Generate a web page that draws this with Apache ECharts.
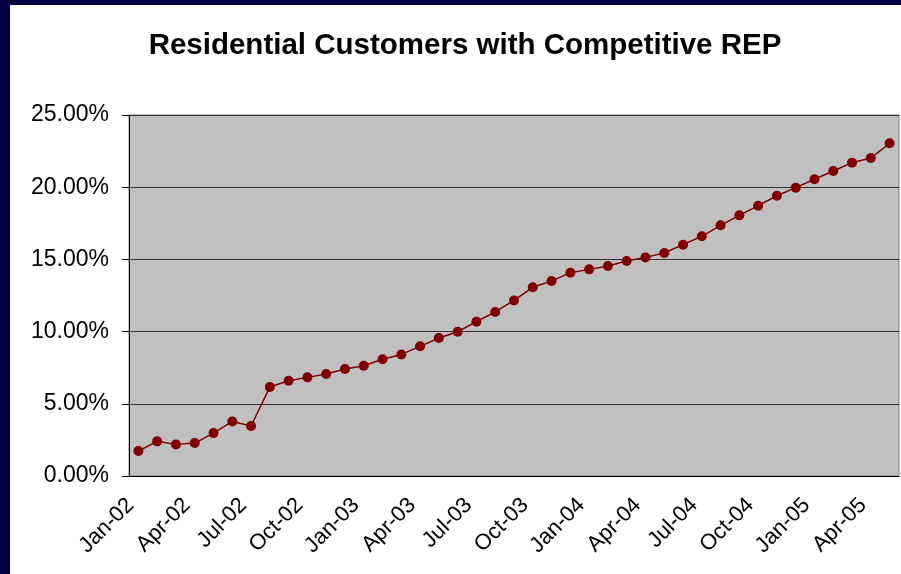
<!DOCTYPE html>
<html>
<head>
<meta charset="utf-8">
<script src="https://cdn.jsdelivr.net/npm/echarts@6/dist/echarts.min.js"></script>
<style>
  html, body { margin: 0; padding: 0; background: #000040; width: 901px; height: 574px; overflow: hidden; }
  #chart { position: absolute; left: 10px; top: 5px; width: 891px; height: 569px; background: #fff; }
</style>
</head>
<body>
<div id="chart"></div>
<script>
// monthly share of residential customers served by a competitive REP (%)
const months = [
  'Jan-02','Feb-02','Mar-02','Apr-02','May-02','Jun-02','Jul-02','Aug-02','Sep-02','Oct-02','Nov-02','Dec-02',
  'Jan-03','Feb-03','Mar-03','Apr-03','May-03','Jun-03','Jul-03','Aug-03','Sep-03','Oct-03','Nov-03','Dec-03',
  'Jan-04','Feb-04','Mar-04','Apr-04','May-04','Jun-04','Jul-04','Aug-04','Sep-04','Oct-04','Nov-04','Dec-04',
  'Jan-05','Feb-05','Mar-05','Apr-05','May-05'
];
const shareValues = [
  1.73, 2.40, 2.19, 2.28, 2.97, 3.78, 3.46, 6.16, 6.60, 6.83, 7.06, 7.41,
  7.64, 8.08, 8.42, 8.98, 9.56, 9.99, 10.69, 11.36, 12.16, 13.07, 13.50, 14.08,
  14.31, 14.54, 14.89, 15.14, 15.44, 16.02, 16.60, 17.36, 18.05, 18.72, 19.41, 19.97,
  20.55, 21.12, 21.70, 22.02, 23.04
];
const yTicks = [0, 5, 10, 15, 20, 25];

const chart = echarts.init(document.getElementById('chart'));
chart.setOption({
  animation: false,
  textStyle: { fontFamily: 'Liberation Sans, Arial, sans-serif' },
  title: {
    text: 'Residential Customers with Competitive REP',
    left: 450,
    top: 21,
    textAlign: 'center',
    textStyle: { fontSize: 29.5, fontWeight: 'bold', color: '#000', fontFamily: 'Liberation Sans, Arial, sans-serif' }
  },
  grid: {
    left: 119, top: 110, width: 770, height: 361,
    show: true, backgroundColor: '#c0c0c0', borderColor: '#808080', borderWidth: 1
  },
  xAxis: {
    type: 'category',
    data: months,
    boundaryGap: true,
    axisLine: { lineStyle: { color: '#000', width: 1 } },
    axisTick: { interval: 2, length: 7, lineStyle: { color: '#000' } },
    axisLabel: { interval: 2, rotate: 45, fontSize: 22, color: '#000', margin: 18, padding: [0, 11, 0, 0] }
  },
  yAxis: {
    type: 'value',
    min: yTicks[0], max: yTicks[yTicks.length - 1], interval: 5,
    axisLine: { show: true, lineStyle: { color: '#000', width: 1 } },
    axisTick: { show: true, length: 7, lineStyle: { color: '#000' } },
    axisLabel: { fontSize: 23, color: '#000', margin: 20, formatter: v => v.toFixed(2) + '%' },
    splitLine: { lineStyle: { color: '#333', width: 1 } }
  },
  series: [{
    type: 'line',
    data: shareValues,
    symbol: 'circle',
    symbolSize: 10,
    lineStyle: { color: '#800000', width: 1.5 },
    itemStyle: { color: '#800000' }
  }]
});
</script>
</body>
</html>
